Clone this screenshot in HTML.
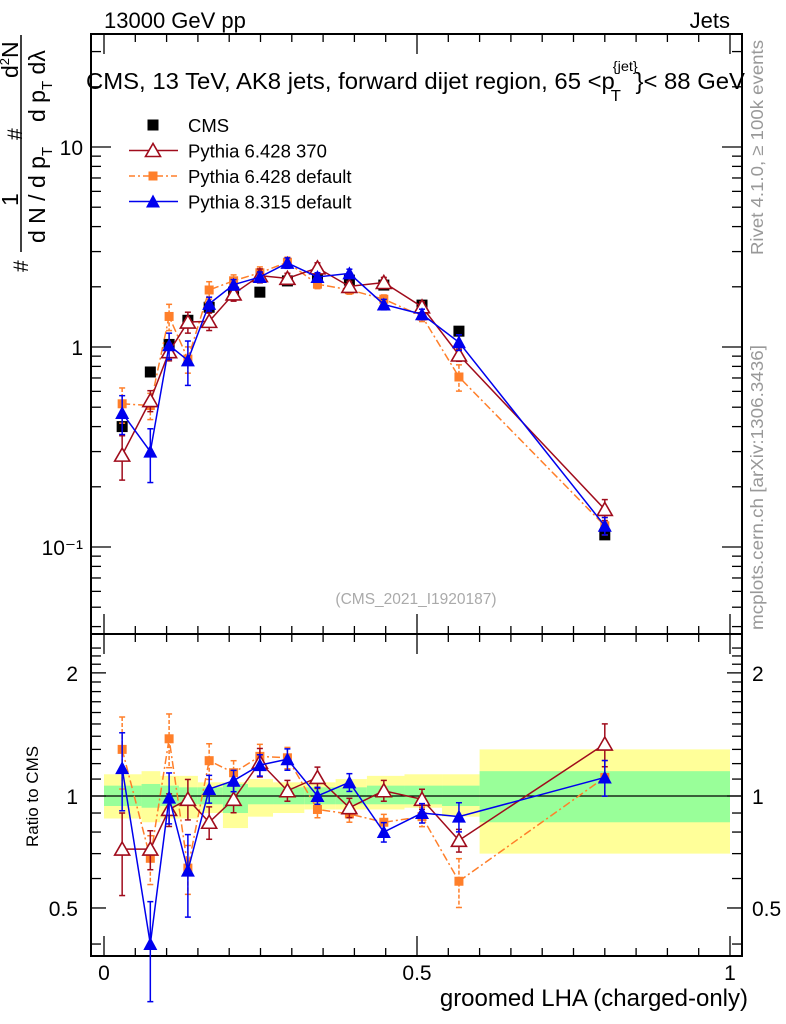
<!DOCTYPE html>
<html><head><meta charset="utf-8">
<style>
html,body{margin:0;padding:0;background:#fff;}
svg{display:block;font-family:"Liberation Sans",Arial,sans-serif;}
</style></head>
<body>
<svg id="chart" width="786" height="1024" viewBox="0 0 786 1024" xmlns="http://www.w3.org/2000/svg">
<g id="bands"></g>
<g id="axes"></g>
<g id="series"></g>
<g id="texts">
<text x="104" y="28" font-size="22">13000 GeV pp</text>
<text x="730" y="28" font-size="22" text-anchor="end">Jets</text>
<text x="86" y="89" font-size="23" textLength="659" lengthAdjust="spacingAndGlyphs">CMS, 13 TeV, AK8 jets, forward dijet region, 65 &lt;p<tspan font-size="14" dy="-18" dx="-2">{jet}</tspan><tspan font-size="16" dy="30" dx="-26">T</tspan><tspan dy="-12" dx="14">}&lt; 88 GeV</tspan></text>
<text x="416" y="604" font-size="15.5" fill="#aaa" text-anchor="middle">(CMS_2021_I1920187)</text>
<text transform="translate(763,255) rotate(-90)" font-size="17.5" fill="#999" textLength="215" lengthAdjust="spacingAndGlyphs">Rivet 4.1.0, ≥ 100k events</text>
<text transform="translate(763,630) rotate(-90)" font-size="17.5" fill="#999" textLength="285" lengthAdjust="spacingAndGlyphs">mcplots.cern.ch [arXiv:1306.3436]</text>
<text x="748" y="1006" font-size="24" text-anchor="end">groomed LHA (charged-only)</text>
<text transform="translate(38,847) rotate(-90)" font-size="17">Ratio to CMS</text>
<g font-size="23">
<line x1="21" y1="35" x2="21" y2="252" stroke="#000" stroke-width="1.5"/>
<text transform="translate(28,272) rotate(-90)" font-size="21">#</text>
<text transform="translate(18,206) rotate(-90)">1</text>
<text transform="translate(22,140) rotate(-90)" font-size="21">#</text>
<text transform="translate(18,78) rotate(-90)">d<tspan font-size="13" dy="-9">2</tspan><tspan dy="9">N</tspan></text>
<text transform="translate(45,243) rotate(-90)">d N / d p<tspan font-size="15" dy="7">T</tspan></text>
<text transform="translate(45,122) rotate(-90)">d p<tspan font-size="15" dy="7">T</tspan><tspan dy="-7"> dλ</tspan></text>
</g>
</g>
<g id="legend"></g>
</svg>
<script>
const xCenters=[0.029,0.074,0.104,0.134,0.168,0.207,0.249,0.293,0.341,0.392,0.447,0.508,0.567,0.8];
const binEdges=[0,0.06,0.09,0.12,0.15,0.19,0.23,0.27,0.32,0.37,0.42,0.48,0.54,0.6,1.0];
const cmsValues=[0.40,0.75,1.03,1.36,1.58,1.88,1.88,2.14,2.24,2.16,2.04,1.62,1.20,0.115];
const p6r370Ratio=[0.72,0.72,0.92,0.98,0.85,0.98,1.21,1.03,1.11,0.93,1.03,0.98,0.76,1.34];
const p6defRatio=[1.30,0.68,1.38,0.64,1.22,1.14,1.25,1.24,0.92,0.895,0.85,0.88,0.59,1.11];
const p8defRatio=[1.17,0.40,0.99,0.63,1.04,1.09,1.19,1.23,1.0,1.08,0.80,0.90,0.88,1.11];
const p6r370Err=[0.25,0.12,0.10,0.12,0.10,0.08,0.08,0.06,0.06,0.06,0.06,0.06,0.07,0.12];
const p6defErr=[0.20,0.15,0.15,0.15,0.10,0.07,0.07,0.06,0.05,0.05,0.05,0.06,0.15,0.10];
const p8defErr=[0.22,0.30,0.15,0.25,0.08,0.06,0.06,0.06,0.05,0.05,0.06,0.06,0.09,0.10];
const yellowUp=[1.13,1.15,1.12,1.12,1.08,1.08,1.10,1.08,1.08,1.10,1.12,1.13,1.13,1.30];
const yellowDn=[0.87,0.85,0.87,0.87,0.90,0.82,0.88,0.90,0.92,0.92,0.92,0.93,0.88,0.70];
const greenUp=[1.06,1.07,1.06,1.05,1.05,1.07,1.05,1.05,1.05,1.05,1.06,1.06,1.06,1.15];
const greenDn=[0.94,0.93,0.94,0.95,0.95,0.90,0.95,0.95,0.95,0.95,0.95,0.95,0.94,0.85];
const mainTicks=["10","1","10\u207B\u00B9"];
const ratioTicks=[2,1,0.5];
const xTicks=[0,0.5,1];

const NS="http://www.w3.org/2000/svg";
const L=91,R=742,T=34,MID=634,B=956;
function X(v){return 104+626*v;}
function Y(v){return 347-200*Math.log10(v);}
function RY(r){return r>=1?796-409*Math.log10(r):796-372*Math.log10(r);}
function mk(p,tag,at){const e=document.createElementNS(NS,tag);for(const k in at)e.setAttribute(k,at[k]);p.appendChild(e);return e;}
const bands=document.getElementById('bands'),axes=document.getElementById('axes'),ser=document.getElementById('series'),leg=document.getElementById('legend');

for(let i=0;i<xCenters.length;i++){
  const x0=X(binEdges[i]),x1=X(binEdges[i+1]);
  const y=mk(bands,'rect',{x:x0,y:RY(yellowUp[i]),width:x1-x0,height:RY(yellowDn[i])-RY(yellowUp[i]),fill:'#ffff99'});
  
  
  const g=mk(bands,'rect',{x:x0,y:RY(greenUp[i]),width:x1-x0,height:RY(greenDn[i])-RY(greenUp[i]),fill:'#99ff99'});
  
  
}
mk(axes,'rect',{x:L,y:T,width:R-L,height:B-T,fill:'none',stroke:'#000','stroke-width':2});
mk(axes,'line',{x1:L,y1:MID,x2:R,y2:MID,stroke:'#000','stroke-width':2});
mk(axes,'line',{x1:L,y1:RY(1),x2:R,y2:RY(1),stroke:'#000','stroke-width':1.2});
for(let k=0;k<=20;k++){const v=k*0.05;const x=X(v);const maj=k%10==0;const len=maj?20:8;
  [[T,1],[MID,-1],[MID,1],[B,-1]].forEach(([y,d])=>mk(axes,'line',{x1:x,y1:y,x2:x,y2:y+d*len,stroke:'#000','stroke-width':1.3}));}
xTicks.forEach(v=>{const t=mk(axes,'text',{x:X(v),y:980,'font-size':21,'text-anchor':'middle'});t.textContent=String(v);
  
  });
for(let e=-2;e<=1;e++){for(let m=1;m<10;m++){const v=m*Math.pow(10,e);const y=Y(v);if(y<T||y>MID)continue;const len=m==1?20:10;
  mk(axes,'line',{x1:L,y1:y,x2:L+len,y2:y,stroke:'#000','stroke-width':1.3});mk(axes,'line',{x1:R,y1:y,x2:R-len,y2:y,stroke:'#000','stroke-width':1.3});}}
[10,1,0.1].forEach((v,i)=>{const t=mk(axes,'text',{x:83,y:Y(v)+8,'font-size':21,'text-anchor':'end'});t.textContent=mainTicks[i];
  
  });
[0.4,0.5,0.6,0.7,0.8,0.9,1,1.1,1.2,1.3,1.4,1.5,1.6,1.7,1.8,1.9,2,2.1,2.2,2.3].forEach(v=>{const y=RY(v);if(y<MID||y>B)return;const maj=ratioTicks.includes(v);const len=maj?15:10;
  mk(axes,'line',{x1:L,y1:y,x2:L+len,y2:y,stroke:'#000','stroke-width':1.3});mk(axes,'line',{x1:R,y1:y,x2:R-len,y2:y,stroke:'#000','stroke-width':1.3});});
ratioTicks.forEach(v=>{[[78,'end'],[752,'start']].forEach(([x,a])=>{const t=mk(axes,'text',{x:x,y:RY(v)+8,'font-size':21,'text-anchor':a});t.textContent=String(v);
  
  });});

function marker(p,type,x,y,col){
  if(type=='sq') return mk(p,'rect',{x:x-5.5,y:y-5.5,width:11,height:11,fill:col});
  if(type=='ssq') return mk(p,'rect',{x:x-4.5,y:y-4.5,width:9,height:9,fill:col});
  if(type=='tri') return mk(p,'polygon',{points:`${x},${y-7} ${x-7},${y+6} ${x+7},${y+6}`,fill:col});
  if(type=='otri') return mk(p,'polygon',{points:`${x},${y-7} ${x-7.5},${y+6} ${x+7.5},${y+6}`,fill:'#fff',stroke:col,'stroke-width':1.6});
}
const seriesDefs=[
 {name:'pythia6-default',ratio:p6defRatio,err:p6defErr,col:'#ff7f2a',m:'ssq',dash:'8,3,2,3'},
 {name:'pythia6-370',ratio:p6r370Ratio,err:p6r370Err,col:'#a00c1c',m:'otri',dash:''},
 {name:'pythia8-default',ratio:p8defRatio,err:p8defErr,col:'#0000ee',m:'tri',dash:''},
];
const cg=mk(ser,'g',{});


xCenters.forEach((xv,i)=>{const m=marker(cg,'sq',X(xv),Y(cmsValues[i]),'#000');
  
  });
seriesDefs.forEach(s=>{
  const g=mk(ser,'g',{});
  
  
  const mainPts=[],ratPts=[];
  xCenters.forEach((xv,i)=>{const v=cmsValues[i]*s.ratio[i];const x=X(xv);
    mainPts.push(x+','+Y(v));ratPts.push(x+','+RY(s.ratio[i]));});
  mk(g,'polyline',{points:mainPts.join(' '),fill:'none',stroke:s.col,'stroke-width':1.5,'stroke-dasharray':s.dash});
  mk(g,'polyline',{points:ratPts.join(' '),fill:'none',stroke:s.col,'stroke-width':1.5,'stroke-dasharray':s.dash});
  xCenters.forEach((xv,i)=>{const x=X(xv);const v=cmsValues[i]*s.ratio[i];const e=s.err[i];
    [[Y(v*(1+e)),Y(v*(1-e))],[RY(s.ratio[i]*(1+e)),RY(s.ratio[i]*(1-e))]].forEach(([a,b])=>{
      mk(g,'line',{x1:x,y1:a,x2:x,y2:b,stroke:s.col,'stroke-width':1.5,'stroke-dasharray':s.dash?'4,2':''});
      mk(g,'line',{x1:x-3,y1:a,x2:x+3,y2:a,stroke:s.col,'stroke-width':1.5});
      mk(g,'line',{x1:x-3,y1:b,x2:x+3,y2:b,stroke:s.col,'stroke-width':1.5});});
    const m1=marker(g,s.m,x,Y(v),s.col);
    
    
    const m2=marker(g,s.m,x,RY(s.ratio[i]),s.col);
    
    
  });
});

const legItems=[['CMS','sq','#000',''],['Pythia 6.428 370','otri','#a00c1c',''],['Pythia 6.428 default','ssq','#ff7f2a','6,3,2,3'],['Pythia 8.315 default','tri','#0000ee','']];
legItems.forEach((it,i)=>{const y=125+25.5*i;const g=mk(leg,'g',{});
  
  
  if(i>0) mk(g,'line',{x1:129,y1:y,x2:178,y2:y,stroke:it[2],'stroke-width':1.5,'stroke-dasharray':it[3]});
  marker(g,it[1],153,y,it[2]);
  const t=mk(g,'text',{x:188,y:y+7,'font-size':18.5});t.textContent=it[0];});
</script>
</body></html>
